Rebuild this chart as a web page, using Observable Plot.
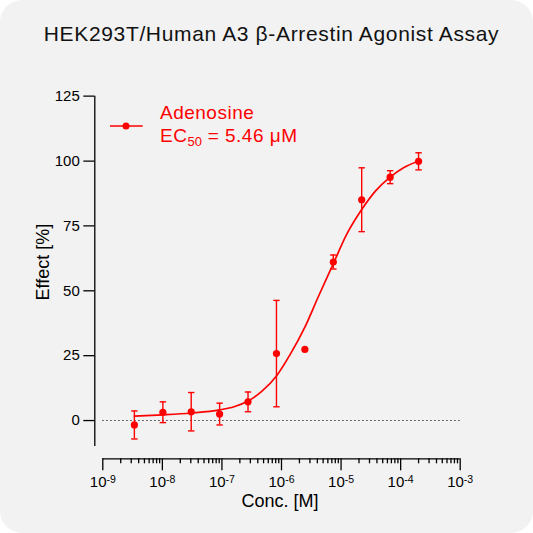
<!DOCTYPE html>
<html><head><meta charset="utf-8">
<script src="https://cdn.jsdelivr.net/npm/d3@7"></script>
<script src="https://cdn.jsdelivr.net/npm/@observablehq/plot@0.6"></script>
<style>
html,body{margin:0;padding:0;background:#fff;}
#card{position:relative;width:533px;height:533px;background:#f2f2f2;border-radius:22px;overflow:hidden;font-family:"Liberation Sans",Arial,sans-serif;}
#title{height:60px;box-sizing:border-box;padding-top:23.5px;padding-left:10px;text-align:center;font-size:21px;line-height:20px;letter-spacing:0.65px;color:#111;white-space:nowrap;}
#chart{height:473px;}
#legend{position:absolute;left:160px;top:101px;color:#ff0000;font-size:19px;line-height:23.4px;letter-spacing:0.5px;white-space:nowrap;}
#legend sub{font-size:13px;vertical-align:-4px;line-height:0;letter-spacing:0;}
#legsym{position:absolute;left:105px;top:116px;}
</style></head>
<body>
<div id="card">
<div id="title">HEK293T/Human A3 β-Arrestin Agonist Assay</div>
<div id="chart"></div>
<svg id="legsym" width="45" height="20"><line x1="5" y1="10" x2="37.7" y2="10" stroke="#ff0000" stroke-width="1.6"/><circle cx="21" cy="10" r="3.5" fill="#ff0000"/></svg>
<div id="legend">Adenosine<br>EC<sub>50</sub> = 5.46 μM</div>
</div>
<script>
// measured data (mean ± SD)
const conc   = [3.39e-9, 1.02e-8, 3.05e-8, 9.14e-8, 2.74e-7, 8.23e-7, 2.47e-6, 7.41e-6, 2.22e-5, 6.67e-5, 2.0e-4];
const effect = [-1.7, 3.2, 3.4, 2.5, 7.2, 25.8, 27.4, 61.1, 85.1, 93.8, 99.9];
const sd     = [5.4, 4.0, 7.4, 4.2, 3.8, 20.5, null, 2.7, 12.3, 2.5, 3.3];
// fitted curve
const fitConc   = [3.39e-9, 1.02e-8, 3.05e-8, 9.14e-8, 1.6e-7, 2.74e-7, 4.7e-7, 8.23e-7, 1.4e-6, 2.47e-6, 4.2e-6, 7.41e-6, 1.26e-5, 2.22e-5, 3.8e-5, 6.67e-5, 1.12e-4, 2.0e-4];
const fitEffect = [1.7, 2.2, 2.9, 4.1, 5.3, 7.5, 11.3, 17.2, 25.5, 36, 48, 60.5, 72, 81.3, 88.5, 93.8, 97.4, 100];
// axes
const xTicks = [1e-9, 1e-8, 1e-7, 1e-6, 1e-5, 1e-4, 1e-3];
const yTicks = [0, 25, 50, 75, 100, 125];
const yLabel = "Effect [%]";
const xLabel = "Conc. [M]";

const red = "#ff0000";
const points = conc.map((c, i) => ({c, e: effect[i], sd: sd[i]}));
const bars = points.filter(d => d.sd != null).map(d => ({c: d.c, lo: d.e - d.sd, hi: d.e + d.sd}));
const fit = fitConc.map((c, i) => ({c, e: fitEffect[i]}));
const minor = xTicks.slice(0, -1).flatMap(t => [2,3,4,5,6,7,8,9].map(k => k * t));
const cap = {draw(ctx) { ctx.moveTo(-3.2, 0); ctx.lineTo(3.2, 0); }};

const plot = Plot.plot({
  width: 533, height: 473,
  marginLeft: 102.3, marginRight: 73.3, marginTop: 35.7, marginBottom: 87,
  style: {background: "transparent", fontFamily: "Liberation Sans, Arial, sans-serif", fontSize: "15px", color: "#000", overflow: "visible"},
  x: {type: "log", domain: [xTicks[0], xTicks[xTicks.length - 1]]},
  y: {domain: [-10, 125]},
  marks: [
    Plot.ruleY([0], {stroke: "#222", strokeDasharray: "1.3,2.7", strokeWidth: 1.1}),
    Plot.ruleX([xTicks[0]], {y1: -10, y2: 125, dx: -8, stroke: "#000", strokeWidth: 1.3}),
    Plot.axisY({ticks: yTicks, tickSize: 11, tickPadding: 4, dx: -8, label: null, strokeWidth: 1.3, fontSize: 15}),
    Plot.ruleY([-10], {x1: xTicks[0], x2: xTicks[xTicks.length - 1], dy: 12.3, stroke: "#000", strokeWidth: 1.3}),
    Plot.axisX({ticks: xTicks, tickSize: 12, tickPadding: 6, dy: 12.3, strokeWidth: 1.3, tickFormat: d => `10^${Math.round(Math.log10(d))}`, label: null, fontSize: 15}),
    Plot.axisX({ticks: minor, tickSize: 5, dy: 12.3, strokeWidth: 1.3, tickFormat: () => "", label: null}),
    Plot.text([yLabel], {frameAnchor: "left", textAnchor: "middle", lineAnchor: "middle", rotate: -90, dx: -60, dy: -9.3, fontSize: 18, fill: "#000"}),
    Plot.text([xLabel], {frameAnchor: "bottom", textAnchor: "middle", lineAnchor: "middle", dx: -1.5, dy: 55, fontSize: 18, fill: "#000"}),
    Plot.line(fit, {x: "c", y: "e", curve: "monotone-x", stroke: red, strokeWidth: 1.7}),
    Plot.ruleX(bars, {x: "c", y1: "lo", y2: "hi", stroke: red, strokeWidth: 1.4}),
    Plot.dot(bars, {x: "c", y: "lo", symbol: cap, stroke: red, fill: "none", strokeWidth: 1.4}),
    Plot.dot(bars, {x: "c", y: "hi", symbol: cap, stroke: red, fill: "none", strokeWidth: 1.4}),
    Plot.dot(points, {x: "c", y: "e", r: 3.6, fill: red})
  ]
});
const ns = "http://www.w3.org/2000/svg";
plot.querySelectorAll("text").forEach(t => {
  const m = /^10\^(-?\d+)$/.exec(t.textContent);
  if (m) {
    t.textContent = "10";
    const ts = document.createElementNS(ns, "tspan");
    ts.setAttribute("dy", "-4.5");
    ts.setAttribute("font-size", "10.5");
    ts.textContent = m[1];
    t.appendChild(ts);
  }
});
document.getElementById("chart").appendChild(plot);
</script>
</body></html>
